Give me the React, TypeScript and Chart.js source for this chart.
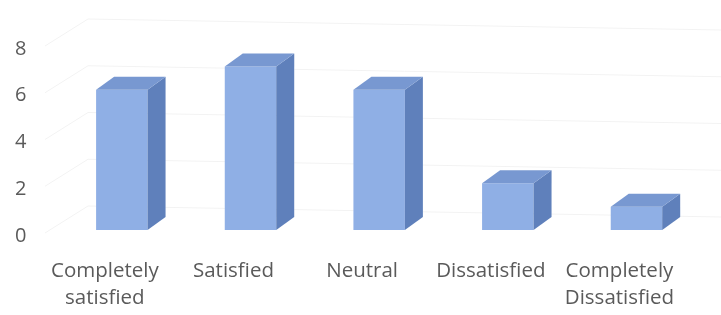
import React, { useEffect, useRef } from "react";
import { Chart, registerables } from "chart.js";

Chart.register(...registerables);

const categories: (string | string[])[] = [
  ["Completely", "satisfied"],
  "Satisfied",
  "Neutral",
  "Dissatisfied",
  ["Completely", "Dissatisfied"],
];
const values: number[] = [6, 7, 6, 2, 1];
const yTicks: number[] = [0, 2, 4, 6, 8];

const FRONT = "#8fafe5";
const SIDE = "#5f80bb";
const TOP = "#7898d1";
const DX = 18;
const DY = -13;

const wallsPlugin = {
  id: "walls",
  beforeDatasetsDraw(chart: any) {
    const ctx = chart.ctx;
    const y = chart.scales.y;
    ctx.save();
    ctx.strokeStyle = "rgba(0,0,0,0.05)";
    ctx.lineWidth = 1;
    for (const v of yTicks) {
      const p = y.getPixelForValue(v);
      ctx.beginPath();
      ctx.moveTo(45, p + 3);
      ctx.lineTo(88, p - 24);
      ctx.lineTo(721, p - 13);
      ctx.stroke();
    }
    ctx.restore();
  },
};

const boxPlugin = {
  id: "box3d",
  afterDatasetsDraw(chart: any) {
    const ctx = chart.ctx;
    const meta = chart.getDatasetMeta(0);
    ctx.save();
    meta.data.forEach((bar: any) => {
      const { x, y, base, width } = bar.getProps(["x", "y", "base", "width"], true);
      const l = x - width / 2;
      const r = x + width / 2;
      ctx.fillStyle = SIDE;
      ctx.beginPath();
      ctx.moveTo(r, y);
      ctx.lineTo(r + DX, y + DY);
      ctx.lineTo(r + DX, base + DY);
      ctx.lineTo(r, base);
      ctx.closePath();
      ctx.fill();
      ctx.fillStyle = TOP;
      ctx.beginPath();
      ctx.moveTo(l, y);
      ctx.lineTo(l + DX, y + DY);
      ctx.lineTo(r + DX, y + DY);
      ctx.lineTo(r, y);
      ctx.closePath();
      ctx.fill();
    });
    ctx.restore();
  },
};

export default function App() {
  const ref = useRef<HTMLCanvasElement | null>(null);
  useEffect(() => {
    document.body.style.margin = "0";
    if (!ref.current) return;
    const chart = new Chart(ref.current, {
      type: "bar",
      data: {
        labels: categories,
        datasets: [
          {
            data: values,
            backgroundColor: FRONT,
            borderWidth: 0,
            barPercentage: 0.4,
            categoryPercentage: 1,
          },
        ],
      },
      options: {
        responsive: false,
        animation: false,
        layout: { padding: { left: 0, right: 18.5, top: 39, bottom: 0 } },
        plugins: { legend: { display: false }, tooltip: { enabled: false } },
        scales: {
          x: {
            grid: { display: false, drawTicks: false },
            border: { display: false },
            afterFit: (s: any) => {
              s.height = 85;
            },
            ticks: {
              color: "#5a5a5a",
              font: { family: "Open Sans", size: 20.5, lineHeight: 1.3 },
              padding: 28,
              labelOffset: -17,
              maxRotation: 0,
              autoSkip: false,
            },
          },
          y: {
            min: 0,
            max: 8,
            grid: { display: false, drawTicks: false },
            border: { display: false },
            afterFit: (s: any) => {
              s.width = 57.5;
            },
            ticks: {
              stepSize: 2,
              color: "#5a5a5a",
              font: { family: "Open Sans", size: 20 },
              padding: 31,
              labelOffset: 6,
            },
          },
        },
      },
      plugins: [wallsPlugin, boxPlugin],
    });
    return () => chart.destroy();
  }, []);
  return (
    <div style={{ width: 721, height: 315, background: "#fff" }}>
      <canvas ref={ref} width={721} height={315} style={{ display: "block" }} />
    </div>
  );
}
